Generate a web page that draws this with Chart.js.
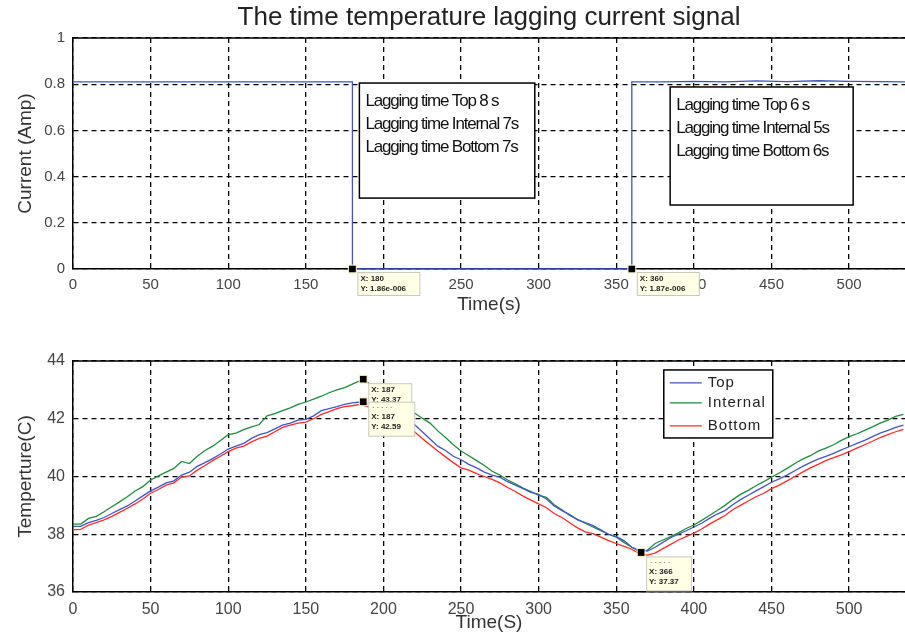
<!DOCTYPE html>
<html><head><meta charset="utf-8">
<script src="https://cdn.jsdelivr.net/npm/chart.js@4/dist/chart.umd.min.js"></script>
<style>
html,body{margin:0;padding:0;background:#fff;overflow:hidden;}
#wrap{position:relative;width:905px;height:640px;}
canvas{position:absolute;left:0;}
</style></head><body>
<div id="wrap">
<canvas id="c1" width="905" height="330" style="top:0"></canvas>
<canvas id="c2" width="905" height="310" style="top:330px"></canvas>
</div>
<script>
// ---------------- DATA ----------------
const chartTitle = 'The time temperature lagging current signal';
const xTickValues = [0, 50, 100, 150, 200, 250, 300, 350, 400, 450, 500];
const currentTickValues = [0, 0.2, 0.4, 0.6, 0.8, 1];
const tempTickValues = [36, 38, 40, 42, 44];

const currentTimes  = [0, 180, 180, 360, 360, 380, 400, 420, 440, 460, 480, 500, 520, 536];
const currentValues = [0.81, 0.81, 0, 0, 0.81, 0.81, 0.812, 0.81, 0.814, 0.811, 0.815, 0.812, 0.811, 0.81];

const lagNotesFirst  = ['Lagging time Top 8 s', 'Lagging time Internal 7s', 'Lagging time Bottom 7s'];
const lagNotesSecond = ['Lagging time Top 6 s', 'Lagging time Internal 5s', 'Lagging time Bottom 6s'];

const currentTips = [
  {x: 180, y: 0, lines: ['X: 180', 'Y: 1.86e-006']},
  {x: 360, y: 0, lines: ['X: 360', 'Y: 1.87e-006']}
];

const tempTimes = [0,5,10,15,20,25,30,35,40,45,50,55,60,65,70,75,80,85,90,95,100,105,110,115,120,125,130,135,140,145,150,155,160,165,170,175,180,185,190,195,200,205,210,215,220,225,230,235,240,245,250,255,260,265,270,275,280,285,290,295,300,305,310,315,320,325,330,335,340,345,350,355,360,365,370,375,380,385,390,395,400,405,410,415,420,425,430,435,440,445,450,455,460,465,470,475,480,485,490,495,500,505,510,515,520,525,530,535];

const tempTop = [38.27,38.27,38.40,38.48,38.58,38.72,38.85,38.98,39.15,39.33,39.50,39.63,39.78,39.85,40.05,40.15,40.35,40.48,40.62,40.78,40.95,41.05,41.15,41.32,41.45,41.52,41.65,41.78,41.85,41.95,41.98,42.10,42.28,42.35,42.42,42.50,42.55,42.58,42.52,42.40,42.25,42.12,42.02,41.92,41.80,41.55,41.30,41.05,40.90,40.70,40.58,40.42,40.30,40.15,40.05,39.98,39.82,39.70,39.58,39.45,39.38,39.22,38.98,38.82,38.68,38.50,38.40,38.30,38.15,38.00,37.92,37.78,37.55,37.45,37.42,37.55,37.72,37.88,38.00,38.12,38.25,38.38,38.55,38.70,38.82,39.02,39.20,39.35,39.50,39.65,39.80,39.92,40.05,40.20,40.35,40.48,40.60,40.70,40.80,40.92,41.03,41.15,41.25,41.38,41.50,41.60,41.70,41.78];

const tempInternal = [38.35,38.35,38.55,38.62,38.78,38.95,39.12,39.30,39.50,39.65,39.88,40.02,40.15,40.28,40.52,40.45,40.70,40.90,41.05,41.25,41.45,41.50,41.62,41.72,41.80,42.10,42.18,42.28,42.38,42.50,42.58,42.68,42.78,42.90,43.00,43.08,43.20,43.32,43.25,43.02,42.82,42.65,42.50,42.35,42.20,42.02,41.85,41.58,41.35,41.10,40.88,40.72,40.55,40.38,40.18,40.05,39.88,39.75,39.60,39.48,39.35,39.28,39.02,38.85,38.65,38.52,38.38,38.25,38.12,38.00,37.90,37.72,37.55,37.40,37.45,37.68,37.80,37.92,38.05,38.20,38.32,38.48,38.65,38.82,39.00,39.20,39.38,39.52,39.68,39.82,39.98,40.12,40.28,40.45,40.60,40.72,40.88,40.98,41.10,41.25,41.38,41.48,41.60,41.72,41.85,41.95,42.08,42.15];

const tempBottom = [38.15,38.17,38.32,38.40,38.50,38.62,38.76,38.90,39.05,39.22,39.42,39.55,39.70,39.78,39.98,40.02,40.22,40.38,40.55,40.70,40.86,40.98,41.05,41.20,41.32,41.40,41.55,41.70,41.78,41.85,41.88,42.00,42.15,42.25,42.35,42.42,42.45,42.50,42.42,42.25,42.08,41.92,41.80,41.68,41.55,41.32,41.10,40.88,40.68,40.48,40.30,40.22,40.10,40.00,39.90,39.78,39.62,39.48,39.32,39.18,39.05,38.92,38.72,38.58,38.40,38.22,38.08,38.02,37.90,37.78,37.68,37.58,37.48,37.32,37.28,37.35,37.50,37.65,37.80,37.92,38.04,38.18,38.35,38.50,38.65,38.85,39.00,39.15,39.30,39.42,39.58,39.70,39.85,40.00,40.15,40.30,40.42,40.55,40.65,40.75,40.86,40.98,41.10,41.22,41.35,41.45,41.55,41.63];

const tempTips = [
  {x: 187, y: 43.37, lines: ['X: 187', 'Y: 43.37'], w: 43, h: 21, header: false},
  {x: 187, y: 42.59, lines: ['X: 187', 'Y: 42.59'], w: 46, h: 34, header: true},
  {x: 366, y: 37.37, lines: ['X: 366', 'Y: 37.37'], w: 45, h: 34, header: true}
];

// ---------------- STYLE ----------------
const FONT = "'Liberation Sans', Arial, sans-serif";
const BLUE = '#3f57c4', GREEN = '#1f8c3c', RED = '#ff2a2a';

function pts(xs, ys) { return xs.map((x, i) => ({x: x, y: ys[i]})); }

function setTicks(values) {
  return function (scale) { scale.ticks = values.map(v => ({value: v})); };
}

function drawTip(ctx, px, py, tip, offY) {
  ctx.save();
  ctx.fillStyle = '#000';
  ctx.strokeStyle = '#f4efc0';
  ctx.lineWidth = 1;
  ctx.fillRect(px - 3.5, py - 3.5, 7, 7);
  ctx.strokeRect(px - 4, py - 4, 8, 8);
  const bx = px + 5, by = py + offY, w = tip.w || 60, h = tip.h || 23;
  ctx.fillStyle = '#ffffe6';
  ctx.strokeStyle = '#c8c8c0';
  ctx.fillRect(bx, by, w, h);
  ctx.strokeRect(bx + 0.5, by + 0.5, w, h);
  ctx.fillStyle = '#222';
  ctx.font = "bold 8px " + FONT;
  ctx.textBaseline = 'middle';
  let ty = by + 7;
  if (tip.header) { ctx.fillStyle = '#888'; ctx.fillText('. . . . .', bx + 4, by + 4); ctx.fillStyle = '#222'; ty = by + 15; }
  tip.lines.forEach((l, i) => ctx.fillText(l, bx + 3, ty + i * 10));
  ctx.restore();
}

const frameTop = {
  id: 'frameTop',
  afterDraw(chart) {
    const {ctx, chartArea: a} = chart;
    ctx.save();
    ctx.strokeStyle = '#000'; ctx.lineWidth = 1.5;
    ctx.beginPath(); ctx.moveTo(a.left, a.top); ctx.lineTo(a.right, a.top); ctx.stroke();
    ctx.restore();
  }
};

const notesPlugin = {
  id: 'notes',
  afterDatasetsDraw(chart) {
    const {ctx} = chart;
    const xs = chart.scales.x, ys = chart.scales.y;
    const boxes = [
      {x0: 184.5, x1: 297.5, y0: 0.805, y1: 0.307, lines: lagNotesFirst},
      {x0: 384.7, x1: 502.6, y0: 0.788, y1: 0.277, lines: lagNotesSecond}
    ];
    ctx.save();
    boxes.forEach(b => {
      const l = xs.getPixelForValue(b.x0), r = xs.getPixelForValue(b.x1);
      const t = ys.getPixelForValue(b.y0), bt = ys.getPixelForValue(b.y1);
      ctx.fillStyle = '#fff';
      ctx.fillRect(l, t, r - l, bt - t);
      ctx.strokeStyle = '#000'; ctx.lineWidth = 1.5;
      ctx.strokeRect(l, t, r - l, bt - t);
      ctx.fillStyle = '#111';
      ctx.font = "17px " + FONT;
      try { ctx.letterSpacing = '-1.2px'; } catch (e) {}
      ctx.textBaseline = 'middle';
      b.lines.forEach((s, i) => ctx.fillText(s, l + 6, t + 18 + i * 23));
    });
    ctx.restore();
    currentTips.forEach(tp => {
      drawTip(ctx, xs.getPixelForValue(tp.x), ys.getPixelForValue(tp.y), {lines: tp.lines, w: 62, h: 23}, 3);
    });
  }
};

const tempPlugin = {
  id: 'tempExtras',
  afterDatasetsDraw(chart) {
    const {ctx} = chart;
    const xs = chart.scales.x, ys = chart.scales.y;
    tempTips.forEach((tp, i) => {
      drawTip(ctx, xs.getPixelForValue(tp.x), ys.getPixelForValue(tp.y), tp, i === 1 ? 0 : 4);
    });
    const l = xs.getPixelForValue(380.6), t = ys.getPixelForValue(43.69);
    const w = 109, h = 68;
    ctx.save();
    ctx.fillStyle = '#fff';
    ctx.fillRect(l, t, w, h);
    ctx.strokeStyle = '#000'; ctx.lineWidth = 1.5;
    ctx.strokeRect(l, t, w, h);
    ctx.font = "15px " + FONT;
    try { ctx.letterSpacing = '1px'; } catch (e) {}
    ctx.textBaseline = 'middle';
    const rows = [13, 33, 56];
    chart.data.datasets.forEach((ds, i) => {
      const y = t + rows[i];
      ctx.strokeStyle = ds.borderColor; ctx.lineWidth = 1.3;
      ctx.beginPath(); ctx.moveTo(l + 6, y); ctx.lineTo(l + 38, y); ctx.stroke();
      ctx.fillStyle = '#222';
      ctx.fillText(ds.label, l + 44, y);
    });
    ctx.restore();
  }
};

function axisCommon(extra) {
  return Object.assign({
    grid: {color: '#000', lineWidth: 1.3, drawTicks: false},
    border: {display: true, color: '#000', width: 1.5, dash: [5, 4]}
  }, extra);
}

function plainLabel(v) { return String(Math.round(v * 10) / 10); }

Chart.defaults.font.family = FONT;
Chart.defaults.color = '#333';
Chart.defaults.animation = false;

// ---------------- TOP CHART ----------------
new Chart(document.getElementById('c1'), {
  type: 'line',
  data: {
    datasets: [{
      label: 'Current',
      data: pts(currentTimes, currentValues),
      borderColor: BLUE, borderWidth: 1.3, pointRadius: 0, tension: 0, fill: false
    }]
  },
  options: {
    responsive: false,
    layout: {padding: {left: 0, right: 0, top: 0, bottom: 0}},
    plugins: {
      legend: {display: false}, tooltip: {enabled: false},
      title: {display: true, text: chartTitle, fullSize: false, color: '#222',
              font: {size: 26, weight: 'normal', family: FONT, lineHeight: 1.1}, padding: {top: 4, bottom: 5.4}}
    },
    scales: {
      x: axisCommon({
        type: 'linear', min: 0, max: 536,
        afterBuildTicks: setTicks(xTickValues),
        afterFit(s) { s.height = 61; },
        ticks: {font: {size: 15}, padding: 7, maxRotation: 0, color: '#444', callback: plainLabel},
        title: {display: true, text: 'Time(s)', font: {size: 19}, color: '#333', padding: {top: 0, bottom: 14}}
      }),
      y: axisCommon({
        type: 'linear', min: 0, max: 1,
        afterBuildTicks: setTicks(currentTickValues),
        afterFit(s) { s.width = 73; },
        ticks: {font: {size: 15}, padding: 8, color: '#444', callback: plainLabel},
        title: {display: true, text: 'Current (Amp)', font: {size: 19}, color: '#333', padding: {top: 14, bottom: 0}}
      })
    }
  },
  plugins: [frameTop, notesPlugin]
});

// ---------------- BOTTOM CHART ----------------
new Chart(document.getElementById('c2'), {
  type: 'line',
  data: {
    datasets: [
      {label: 'Top', data: pts(tempTimes, tempTop), borderColor: BLUE, borderWidth: 1.3, pointRadius: 0, tension: 0, fill: false},
      {label: 'Internal', data: pts(tempTimes, tempInternal), borderColor: GREEN, borderWidth: 1.3, pointRadius: 0, tension: 0, fill: false},
      {label: 'Bottom', data: pts(tempTimes, tempBottom), borderColor: RED, borderWidth: 1.3, pointRadius: 0, tension: 0, fill: false}
    ]
  },
  options: {
    responsive: false,
    layout: {padding: {left: 0, right: 0, top: 31, bottom: 0}},
    plugins: {legend: {display: false}, tooltip: {enabled: false}, title: {display: false}},
    scales: {
      x: axisCommon({
        type: 'linear', min: 0, max: 536,
        afterBuildTicks: setTicks(xTickValues),
        afterFit(s) { s.height = 48; },
        ticks: {font: {size: 16}, padding: 8, maxRotation: 0, color: '#444', callback: plainLabel},
        title: {display: true, text: 'Time(S)', font: {size: 19}, color: '#333', padding: {top: 0, bottom: 6}}
      }),
      y: axisCommon({
        type: 'linear', min: 36, max: 44,
        afterBuildTicks: setTicks(tempTickValues),
        afterFit(s) { s.width = 73; },
        ticks: {font: {size: 16}, padding: 8, color: '#444', callback: plainLabel},
        title: {display: true, text: 'Temperture(C)', font: {size: 19}, color: '#333', padding: {top: 14, bottom: 0}}
      })
    }
  },
  plugins: [frameTop, tempPlugin]
});
</script>
</body></html>
